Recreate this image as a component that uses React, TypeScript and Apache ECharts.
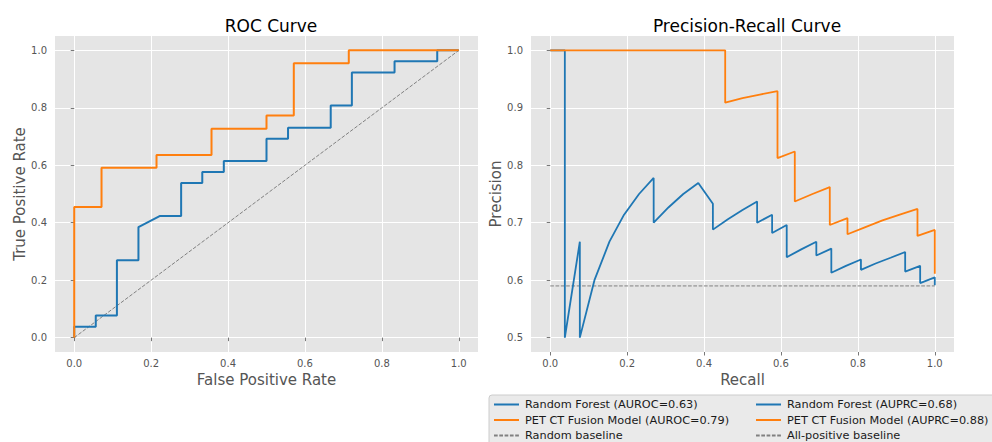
import React, { useEffect, useRef } from 'react';
import * as echarts from 'echarts';

// ROC curve points
const rfRocFpr = [0, 0, 0.056, 0.056, 0.111, 0.111, 0.167, 0.167, 0.222, 0.278, 0.278, 0.333, 0.333, 0.389, 0.389, 0.5, 0.5, 0.556, 0.556, 0.667, 0.667, 0.722, 0.722, 0.833, 0.833, 0.944, 0.944, 1.0];
const rfRocTpr = [0, 0.038, 0.038, 0.077, 0.077, 0.269, 0.269, 0.385, 0.423, 0.423, 0.538, 0.538, 0.577, 0.577, 0.615, 0.615, 0.692, 0.692, 0.731, 0.731, 0.808, 0.808, 0.923, 0.923, 0.962, 0.962, 1.0, 1.0];
const petRocFpr = [0, 0, 0.071, 0.071, 0.214, 0.214, 0.357, 0.357, 0.5, 0.5, 0.571, 0.571, 0.714, 0.714, 1.0];
const petRocTpr = [0, 0.455, 0.455, 0.591, 0.591, 0.636, 0.636, 0.727, 0.727, 0.773, 0.773, 0.955, 0.955, 1.0, 1.0];
const randomBaselineX = [0, 1];
const randomBaselineY = [0, 1];

// Precision-Recall curve points
const rfRecall = [0, 0.038, 0.038, 0.077, 0.077, 0.115, 0.154, 0.192, 0.231, 0.269, 0.269, 0.308, 0.346, 0.385, 0.423, 0.423, 0.462, 0.5, 0.538, 0.538, 0.577, 0.577, 0.615, 0.615, 0.654, 0.692, 0.692, 0.731, 0.731, 0.769, 0.808, 0.808, 0.846, 0.885, 0.923, 0.923, 0.962, 0.962, 1.0, 1.0];
const rfPrecision = [1.0, 1.0, 0.5, 0.667, 0.5, 0.6, 0.667, 0.714, 0.75, 0.778, 0.7, 0.727, 0.75, 0.769, 0.733, 0.688, 0.706, 0.722, 0.737, 0.7, 0.714, 0.682, 0.696, 0.64, 0.654, 0.667, 0.643, 0.655, 0.613, 0.625, 0.636, 0.618, 0.629, 0.639, 0.649, 0.615, 0.625, 0.595, 0.605, 0.591];
const petRecall = [0, 0.455, 0.455, 0.5, 0.545, 0.591, 0.591, 0.636, 0.636, 0.682, 0.727, 0.727, 0.773, 0.773, 0.818, 0.864, 0.909, 0.955, 0.955, 1.0, 1.0];
const petPrecision = [1.0, 1.0, 0.909, 0.917, 0.923, 0.929, 0.8125, 0.824, 0.737, 0.75, 0.762, 0.696, 0.708, 0.68, 0.692, 0.704, 0.714, 0.724, 0.677, 0.6875, 0.611];
const positiveBaselineX = [0, 1];
const positiveBaselineY = [0.59, 0.59];

// Tick labels
const rocTicks = [0.0, 0.2, 0.4, 0.6, 0.8, 1.0];
const recallTicks = [0.0, 0.2, 0.4, 0.6, 0.8, 1.0];
const precisionTicks = [0.5, 0.6, 0.7, 0.8, 0.9, 1.0];

const rocLegend = ['Random Forest (AUROC=0.63)', 'PET CT Fusion Model (AUROC=0.79)', 'Random baseline'];
const prLegend = ['Random Forest (AUPRC=0.68)', 'PET CT Fusion Model (AUPRC=0.88)', 'All-positive baseline'];

const zip = (xs: number[], ys: number[]) => xs.map((x, i) => [x, ys[i]]);

const FONT = 'DejaVu Sans';
const BLUE = '#1f77b4';
const ORANGE = '#ff7f0e';
const GRAY = '#808080';

function makeAxis(gridIndex: number, min: number, max: number, ticks: number[], name: string, isY: boolean) {
  return {
    type: 'value',
    gridIndex,
    min,
    max,
    name,
    nameLocation: 'middle',
    nameGap: isY ? 27 : 18,
    nameTextStyle: { fontSize: 15, color: '#555555', fontFamily: FONT },
    axisLine: { show: false },
    axisTick: { show: true, length: 3.5, lineStyle: { color: '#555555', width: 0.8 }, customValues: ticks },
    axisLabel: {
      customValues: ticks,
      fontSize: 10,
      color: '#555555',
      fontFamily: FONT,
      margin: isY ? 8 : 6,
      formatter: (v: number) => v.toFixed(1),
    },
    splitLine: { show: true, lineStyle: { color: '#ffffff', width: 1 } },
  };
}

function makeLegend(names: string[], left: number) {
  return {
    data: names,
    orient: 'vertical',
    left,
    top: 399,
    width: 240,
    height: 80,
    itemWidth: 25,
    itemHeight: 12,
    itemGap: 4.5,
    padding: 0,
    itemStyle: { opacity: 0 },
    textStyle: { fontSize: 11.3, color: '#1a1a1a', fontFamily: FONT, padding: [0, 0, 0, 1] },
    z: 5,
  };
}

export default function App() {
  const ref = useRef<HTMLDivElement>(null);
  useEffect(() => {
    if (!ref.current) return;
    const chart = echarts.init(ref.current, undefined, { renderer: 'svg' });
    const lineBase = { type: 'line', symbol: 'none', showSymbol: false, animation: false };
    chart.setOption({
      animation: false,
      backgroundColor: '#ffffff',
      title: [
        { text: 'ROC Curve', left: 266, top: 12, textAlign: 'center', textStyle: { fontSize: 17, fontWeight: 'normal', color: '#000000', fontFamily: FONT } },
        { text: 'Precision-Recall Curve', left: 742, top: 12, textAlign: 'center', textStyle: { fontSize: 17, fontWeight: 'normal', color: '#000000', fontFamily: FONT } },
      ],
      grid: [
        { left: 55, top: 36, width: 423, height: 316, show: true, backgroundColor: '#e5e5e5', borderWidth: 0 },
        { left: 531, top: 36, width: 423, height: 316, show: true, backgroundColor: '#e5e5e5', borderWidth: 0 },
      ],
      xAxis: [
        makeAxis(0, -0.05, 1.05, rocTicks, 'False Positive Rate', false),
        makeAxis(1, -0.05, 1.05, recallTicks, 'Recall', false),
      ],
      yAxis: [
        makeAxis(0, -0.05, 1.05, rocTicks, 'True Positive Rate', true),
        makeAxis(1, 0.475, 1.025, precisionTicks, 'Precision', true),
      ],
      graphic: [
        {
          type: 'rect',
          shape: { x: 489, y: 395, width: 520, height: 60, r: 3 },
          style: { fill: 'rgba(229,229,229,0.8)', stroke: '#cccccc', lineWidth: 1 },
          z: 0,
        },
      ],
      legend: [makeLegend(rocLegend, 493), makeLegend(prLegend, 755)],
      series: [
        { ...lineBase, name: rocLegend[2], xAxisIndex: 0, yAxisIndex: 0, data: zip(randomBaselineX, randomBaselineY), lineStyle: { color: GRAY, width: 1, type: [3.7, 1.6] }, itemStyle: { color: GRAY } },
        { ...lineBase, name: rocLegend[0], xAxisIndex: 0, yAxisIndex: 0, data: zip(rfRocFpr, rfRocTpr), lineStyle: { color: BLUE, width: 2 }, itemStyle: { color: BLUE } },
        { ...lineBase, name: rocLegend[1], xAxisIndex: 0, yAxisIndex: 0, data: zip(petRocFpr, petRocTpr), lineStyle: { color: ORANGE, width: 2 }, itemStyle: { color: ORANGE } },
        { ...lineBase, name: prLegend[2], xAxisIndex: 1, yAxisIndex: 1, data: zip(positiveBaselineX, positiveBaselineY), lineStyle: { color: GRAY, width: 1, type: [3.7, 1.6] }, itemStyle: { color: GRAY } },
        { ...lineBase, name: prLegend[0], xAxisIndex: 1, yAxisIndex: 1, data: zip(rfRecall, rfPrecision), lineStyle: { color: BLUE, width: 1.8 }, itemStyle: { color: BLUE } },
        { ...lineBase, name: prLegend[1], xAxisIndex: 1, yAxisIndex: 1, data: zip(petRecall, petPrecision), lineStyle: { color: ORANGE, width: 1.8 }, itemStyle: { color: ORANGE } },
      ],
    });
    return () => chart.dispose();
  }, []);
  return <div ref={ref} style={{ position: 'fixed', left: 0, top: 0, width: 992, height: 442 }} />;
}
